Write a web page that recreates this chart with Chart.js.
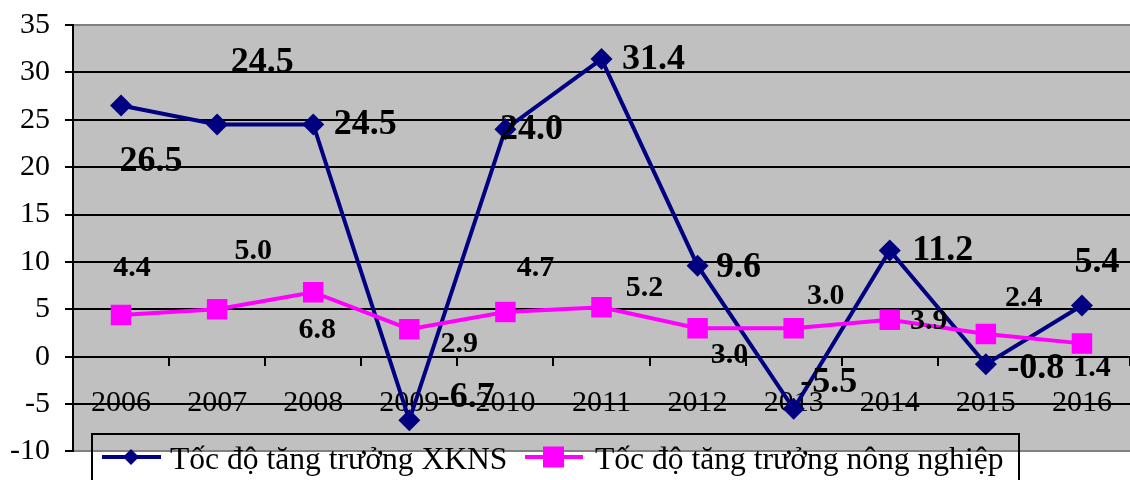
<!DOCTYPE html>
<html>
<head>
<meta charset="utf-8">
<script src="https://cdn.jsdelivr.net/npm/chart.js@4/dist/chart.umd.min.js"></script>
<style>
  html, body { margin: 0; padding: 0; background: #ffffff; }
  #wrap { width: 1130px; height: 480px; }
</style>
</head>
<body>
<div id="wrap"><canvas id="growth" width="1130" height="480"></canvas></div>
<script>
// Growth rates (%) by year
const years = ['2006', '2007', '2008', '2009', '2010', '2011', '2012', '2013', '2014', '2015', '2016'];
const xknsGrowth = [26.5, 24.5, 24.5, -6.7, 24.0, 31.4, 9.6, -5.5, 11.2, -0.8, 5.4];
const agriGrowth = [4.4, 5.0, 6.8, 2.9, 4.7, 5.2, 3.0, 3.0, 3.9, 2.4, 1.4];
const seriesNames = ['Tốc độ tăng trưởng XKNS', 'Tốc độ tăng trưởng nông nghiệp'];
const yMin = -10;
const yMax = 35;
const yStep = 5;

// Hand-placed value labels: [dx, dy] in px from each point
const xknsLabelShift = [[30, 56], [45, -62], [52, 0], [57, -22], [26, 0], [52, 1], [41, 2], [35, -26], [53, 0], [50, 4], [15, -43]];
const agriLabelShift = [[11, -47], [36, -58], [4, 38], [50, 15], [30, -44], [43, -19], [32, 27], [32, -32], [39, 2], [38, -36], [10, 25]];

const SERIF = "'Liberation Serif', 'Times New Roman', serif";
const NAVY = '#000080';
const MAGENTA = '#FF00FF';
const PLOT_BG = '#C0C0C0';

// Gray plot background
const plotBackground = {
  id: 'plotBackground',
  beforeDraw(chart) {
    const { ctx, chartArea: a } = chart;
    ctx.save();
    ctx.fillStyle = PLOT_BG;
    ctx.fillRect(a.left, a.top, a.right - a.left, a.bottom - a.top);
    ctx.restore();
  }
};

// Value labels next to each point
const valueLabels = {
  id: 'valueLabels',
  afterDatasetsDraw(chart) {
    const { ctx } = chart;
    const setups = [
      { shifts: xknsLabelShift, font: 'bold 36px ' + SERIF },
      { shifts: agriLabelShift, font: 'bold 30px ' + SERIF }
    ];
    ctx.save();
    ctx.fillStyle = '#000';
    ctx.textAlign = 'center';
    ctx.textBaseline = 'middle';
    chart.data.datasets.forEach((ds, i) => {
      const meta = chart.getDatasetMeta(i);
      ctx.font = setups[i].font;
      meta.data.forEach((pt, j) => {
        const [dx, dy] = setups[i].shifts[j];
        ctx.fillText(ds.data[j].toFixed(1), pt.x + dx, pt.y + dy);
      });
    });
    ctx.restore();
  }
};

// Boxed legend sitting across the bottom of the plot
const boxedLegend = {
  id: 'boxedLegend',
  afterDraw(chart) {
    const { ctx } = chart;
    const top = 434, left = 92, right = 1019, rowY = 457;
    ctx.save();
    ctx.strokeStyle = '#000';
    ctx.lineWidth = 2;
    ctx.strokeRect(left, top, right - left, 80);

    // XKNS entry
    ctx.strokeStyle = NAVY;
    ctx.lineWidth = 4;
    ctx.beginPath(); ctx.moveTo(102, rowY); ctx.lineTo(161, rowY); ctx.stroke();
    ctx.fillStyle = NAVY;
    ctx.beginPath();
    ctx.moveTo(131, rowY - 8); ctx.lineTo(139, rowY); ctx.lineTo(131, rowY + 8); ctx.lineTo(123, rowY);
    ctx.closePath(); ctx.fill();

    // Agriculture entry
    ctx.strokeStyle = MAGENTA;
    ctx.beginPath(); ctx.moveTo(525, rowY); ctx.lineTo(583, rowY); ctx.stroke();
    ctx.fillStyle = MAGENTA;
    ctx.fillRect(543, rowY - 10.5, 21, 21);

    ctx.fillStyle = '#000';
    ctx.font = '31.6px ' + SERIF;
    ctx.textAlign = 'left';
    ctx.textBaseline = 'alphabetic';
    ctx.fillText(seriesNames[0], 170, 469);
    ctx.fillText(seriesNames[1], 595, 469);
    ctx.restore();
  }
};

new Chart(document.getElementById('growth'), {
  type: 'line',
  data: {
    labels: years,
    datasets: [
      {
        label: seriesNames[0],
        data: xknsGrowth,
        borderColor: NAVY,
        backgroundColor: NAVY,
        borderWidth: 4,
        pointStyle: 'rectRot',
        pointRadius: 11,
        pointBorderWidth: 0,
        pointBackgroundColor: NAVY,
        tension: 0,
        order: 1
      },
      {
        label: seriesNames[1],
        data: agriGrowth,
        borderColor: MAGENTA,
        backgroundColor: MAGENTA,
        borderWidth: 4,
        pointStyle: 'rect',
        pointRadius: 14.5,
        pointBorderWidth: 0,
        pointBackgroundColor: MAGENTA,
        tension: 0,
        order: 0
      }
    ]
  },
  options: {
    responsive: false,
    animation: false,
    devicePixelRatio: 1,
    layout: { autoPadding: false, padding: { top: 25, right: 0, bottom: 28.6, left: 0 } },
    plugins: {
      legend: { display: false },
      tooltip: { enabled: false }
    },
    scales: {
      x: {
        type: 'category',
        offset: true,
        position: { y: 0 },
        afterFit(scale) { scale.paddingLeft = 0; scale.paddingRight = 0; },
        grid: { offset: true, drawOnChartArea: false, color: '#000', lineWidth: 2, tickLength: 8 },
        border: { color: '#000', width: 2 },
        ticks: { color: '#000', font: { family: SERIF, size: 30 }, padding: 20, maxRotation: 0, autoSkip: false }
      },
      y: {
        min: yMin,
        max: yMax,
        afterFit(scale) { scale.width = 73; scale.paddingTop = 0; scale.paddingBottom = 0; },
        grid: {
          color: (c) => (c.tick && (c.tick.value === yMax || c.tick.value === yMin)) ? '#808080' : '#000',
          tickColor: '#000',
          lineWidth: 2,
          tickLength: 8
        },
        border: { color: '#000', width: 2 },
        ticks: { stepSize: yStep, color: '#000', font: { family: SERIF, size: 30 }, padding: 15 }
      }
    }
  },
  plugins: [plotBackground, valueLabels, boxedLegend]
});
</script>
</body>
</html>
